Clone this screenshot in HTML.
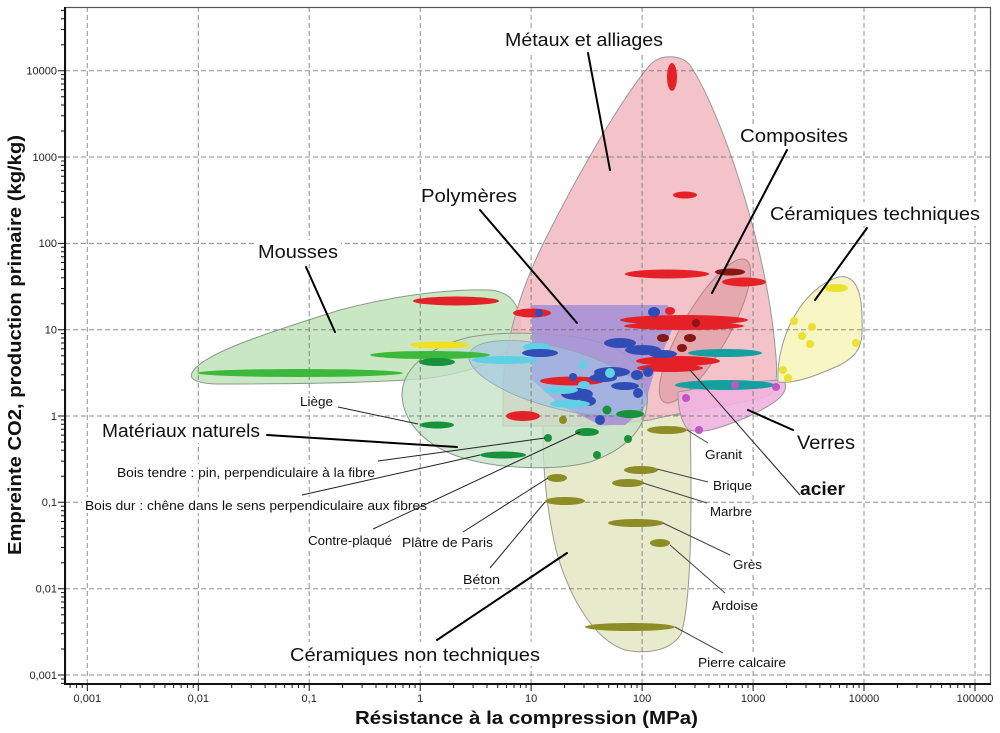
<!DOCTYPE html>
<html><head><meta charset="utf-8"><style>
html,body{margin:0;padding:0;background:#fff;}
svg{display:block;}
text{font-family:"Liberation Sans",Arial,sans-serif;}
</style></head><body>
<svg width="1000" height="733" viewBox="0 0 1000 733" xmlns="http://www.w3.org/2000/svg">
<rect x="0" y="0" width="1000" height="733" fill="#fff"/>

<!-- Regions -->
<!-- Mousses -->
<path d="M192,373 C200,355 260,335 340,310 C390,297 440,289 490,290 C515,292 522,310 520,335 C510,360 470,372 430,378 C380,383 300,384 220,384 C200,384 188,380 192,373 Z" fill="#c9e7c2" stroke="#8a9a8a" stroke-width="1"/>
<!-- Céramiques non techniques -->
<path d="M543,415 L690,415 C692,500 692,600 681,634 C670,652 645,654 625,650 C595,640 570,600 556,550 C547,510 542,470 543,415 Z" fill="#e7eacb" stroke="#9a9a90" stroke-width="1"/>
<!-- Métaux -->
<path d="M503,426 L503,390 C505,340 520,290 545,240 C575,180 620,100 650,65 C660,54 680,54 690,65 C720,110 760,230 772,320 C777,360 780,385 770,395 C740,405 690,410 650,420 L600,426 Z" fill="#f3b9c2" fill-opacity="0.88" stroke="#999" stroke-width="1"/>
<!-- Natural materials -->
<path d="M402,395 C402,370 425,348 470,337 C510,330 580,332 615,348 C640,362 650,385 647,405 C644,430 625,450 590,462 C560,470 510,470 470,460 C430,450 403,425 402,395 Z" fill="#c4e2c6" fill-opacity="0.78" stroke="#8a9a8a" stroke-width="1"/>
<!-- Composites -->
<ellipse cx="705" cy="331" rx="82" ry="23" transform="rotate(-60 705 331)" fill="#c8787c" fill-opacity="0.35" stroke="#b08888" stroke-width="1"/>
<!-- Polymères -->
<polygon points="532,305 668,305 672,330 655,370 643,410 625,425 600,425 560,405 532,380" fill="#a590d6" fill-opacity="0.88"/>
<!-- Elastomer light-blue ellipse -->
<ellipse cx="558" cy="378" rx="92" ry="30" transform="rotate(15 558 378)" fill="#9ec3e6" fill-opacity="0.6" stroke="#8aa" stroke-width="0.8"/>
<!-- Verres -->
<path d="M678,392 C720,384 760,381 784,380 C790,392 780,402 745,418 C720,428 705,434 688,430 C680,420 678,405 678,392 Z" fill="#f0b2df" fill-opacity="0.9" stroke="#999" stroke-width="1"/>
<!-- Céramiques techniques -->
<path d="M778,382 C776,340 800,290 838,277 C855,274 862,290 862,320 C863,345 860,355 838,366 C815,376 795,384 778,382 Z" fill="#f8f6c2" stroke="#999" stroke-width="1"/>

<!-- Grid -->
<g stroke="#6a6a6a" stroke-width="1" stroke-dasharray="5,3" opacity="0.75">
<line x1="87.3" y1="7" x2="87.3" y2="684"/>
<line x1="198.3" y1="7" x2="198.3" y2="684"/>
<line x1="309.2" y1="7" x2="309.2" y2="684"/>
<line x1="420.2" y1="7" x2="420.2" y2="684"/>
<line x1="531.1" y1="7" x2="531.1" y2="684"/>
<line x1="642.1" y1="7" x2="642.1" y2="684"/>
<line x1="753.1" y1="7" x2="753.1" y2="684"/>
<line x1="864.0" y1="7" x2="864.0" y2="684"/>
<line x1="975.0" y1="7" x2="975.0" y2="684"/>
<line x1="65" y1="70.7" x2="991" y2="70.7"/>
<line x1="65" y1="157.0" x2="991" y2="157.0"/>
<line x1="65" y1="243.4" x2="991" y2="243.4"/>
<line x1="65" y1="329.7" x2="991" y2="329.7"/>
<line x1="65" y1="416.0" x2="991" y2="416.0"/>
<line x1="65" y1="502.3" x2="991" y2="502.3"/>
<line x1="65" y1="588.7" x2="991" y2="588.7"/>
<line x1="65" y1="675.0" x2="991" y2="675.0"/>
</g>

<!-- Label background boxes -->
<g fill="#fff">
<rect x="502" y="28" width="164" height="24"/>
<rect x="737" y="124" width="114" height="24"/>
<rect x="767" y="202" width="216" height="24"/>
<rect x="418" y="184" width="102" height="24"/>
<rect x="255" y="240" width="86" height="24"/>
<rect x="99" y="419" width="164" height="24"/>
<rect x="287" y="642" width="256" height="24"/>
<rect x="794" y="430" width="64" height="24"/>
<rect x="797" y="478" width="52" height="22"/>
<rect x="298" y="394" width="37" height="15"/>
<rect x="115" y="464" width="262" height="16"/>
<rect x="82" y="497" width="346" height="16"/>
<rect x="306" y="532" width="88" height="16"/>
<rect x="400" y="534" width="95" height="16"/>
<rect x="461" y="571" width="41" height="16"/>
<rect x="703" y="447" width="41" height="16"/>
<rect x="711" y="479" width="43" height="16"/>
<rect x="708" y="504" width="46" height="16"/>
<rect x="731" y="556" width="33" height="16"/>
<rect x="710" y="597" width="50" height="16"/>
<rect x="696" y="654" width="92" height="16"/>
</g>

<!-- Bubbles -->
<g fill="#e52128">
<ellipse cx="672" cy="77" rx="5" ry="14"/>
<ellipse cx="685" cy="195" rx="12" ry="3.5"/>
<ellipse cx="667" cy="274" rx="42" ry="4.5"/>
<ellipse cx="744" cy="282" rx="22" ry="4.5"/>
<ellipse cx="456" cy="301" rx="43" ry="4.5"/>
<ellipse cx="532" cy="313" rx="19" ry="4.5"/>
<ellipse cx="670" cy="311" rx="5" ry="4"/>
<ellipse cx="684" cy="320" rx="64" ry="5"/>
<ellipse cx="684" cy="326" rx="60" ry="4"/>
<ellipse cx="678" cy="361" rx="42" ry="5"/>
<ellipse cx="670" cy="368" rx="33" ry="4"/>
<ellipse cx="572" cy="381" rx="32" ry="4.5"/>
<ellipse cx="523" cy="416" rx="17" ry="5"/>
</g>
<g fill="#8a1515">
<ellipse cx="730" cy="272" rx="15" ry="3.5"/>
<circle cx="696" cy="323" r="4"/>
<ellipse cx="663" cy="338" rx="6" ry="4"/>
<ellipse cx="690" cy="338" rx="6" ry="4"/>
<ellipse cx="682" cy="348" rx="5" ry="4"/>
</g>
<g fill="#3cb83c">
<ellipse cx="430" cy="355" rx="60" ry="4"/>
<ellipse cx="300" cy="373" rx="103" ry="4"/>
</g>
<ellipse cx="440" cy="345" rx="30" ry="3.5" fill="#f0e020"/>
<g fill="#5fd0e6">
<ellipse cx="537" cy="347" rx="14" ry="4"/>
<ellipse cx="505" cy="360" rx="33" ry="4"/>
</g>
<g fill="#2f4db5">
<circle cx="539" cy="313" r="4"/>
<ellipse cx="654" cy="312" rx="6" ry="5"/>
<ellipse cx="540" cy="353" rx="18" ry="4"/>
<ellipse cx="620" cy="343" rx="16" ry="5"/>
<ellipse cx="643" cy="350" rx="18" ry="5"/>
<ellipse cx="663" cy="354" rx="14" ry="4"/>
<ellipse cx="612" cy="372" rx="18" ry="5"/>
<ellipse cx="603" cy="378" rx="14" ry="4"/>
<circle cx="573" cy="377" r="4"/>
<circle cx="598" cy="377" r="5"/>
<ellipse cx="637" cy="375" rx="6" ry="5"/>
<circle cx="648" cy="372" r="5"/>
<ellipse cx="625" cy="386" rx="14" ry="4"/>
<ellipse cx="577" cy="394" rx="16" ry="6"/>
<circle cx="638" cy="393" r="5"/>
<circle cx="600" cy="420" r="5"/>
<ellipse cx="588" cy="401" rx="8" ry="5"/>
</g>
<g fill="#5fd0e6">
<circle cx="583" cy="365" r="4"/>
<circle cx="610" cy="373" r="5"/>
<ellipse cx="584" cy="385" rx="6" ry="4"/>
<ellipse cx="561" cy="390" rx="17" ry="4"/>
<ellipse cx="570" cy="404" rx="20" ry="4"/>
</g>
<g fill="#17913c">
<ellipse cx="437" cy="362" rx="18" ry="4"/>
<ellipse cx="437" cy="425" rx="17" ry="3.5"/>
<ellipse cx="503" cy="455" rx="23" ry="3.5"/>
<circle cx="548" cy="438" r="4"/>
<ellipse cx="587" cy="432" rx="12" ry="4"/>
<circle cx="597" cy="455" r="4"/>
<circle cx="628" cy="439" r="4"/>
<circle cx="607" cy="410" r="4.5"/>
<ellipse cx="630" cy="414" rx="14" ry="4"/>
</g>
<g fill="#14a0a0">
<ellipse cx="725" cy="353" rx="37" ry="4"/>
<ellipse cx="725" cy="385" rx="50" ry="5"/>
</g>
<g fill="#c055c5">
<circle cx="735" cy="385" r="4"/>
<circle cx="776" cy="387" r="4"/>
<circle cx="686" cy="398" r="4"/>
<circle cx="699" cy="430" r="4"/>
</g>
<g fill="#ece030">
<ellipse cx="836" cy="288" rx="12" ry="4"/>
<circle cx="794" cy="321" r="4"/>
<circle cx="812" cy="327" r="4"/>
<circle cx="802" cy="336" r="4"/>
<circle cx="810" cy="344" r="4"/>
<circle cx="856" cy="343" r="4"/>
<circle cx="783" cy="370" r="4"/>
<circle cx="788" cy="378" r="4"/>
</g>
<g fill="#8d8c26">
<circle cx="563" cy="420" r="4"/>
<ellipse cx="667" cy="430" rx="20" ry="4"/>
<ellipse cx="641" cy="470" rx="17" ry="4"/>
<ellipse cx="628" cy="483" rx="16" ry="4"/>
<ellipse cx="557" cy="478" rx="10" ry="4"/>
<ellipse cx="565" cy="501" rx="20" ry="4"/>
<ellipse cx="636" cy="523" rx="28" ry="4"/>
<ellipse cx="660" cy="543" rx="10" ry="4"/>
<ellipse cx="630" cy="627" rx="45" ry="4"/>
</g>

<!-- Leader lines -->
<g stroke="#000" stroke-width="2" stroke-linecap="round">
<line x1="588" y1="53" x2="610" y2="170"/>
<line x1="787" y1="150" x2="712" y2="293"/>
<line x1="867" y1="228" x2="815" y2="300"/>
<line x1="480" y1="210" x2="577" y2="323"/>
<line x1="306" y1="267" x2="335" y2="332"/>
<line x1="267" y1="435" x2="457" y2="447"/>
<line x1="748" y1="410" x2="793" y2="430"/>
<line x1="437" y1="640" x2="567" y2="553"/>
</g>
<g stroke="#222" stroke-width="1">
<line x1="338" y1="407" x2="418" y2="424"/>
<line x1="378" y1="461" x2="545" y2="438"/>
<line x1="302" y1="495" x2="480" y2="455"/>
<line x1="373" y1="529" x2="580" y2="432"/>
<line x1="463" y1="532" x2="548" y2="478"/>
<line x1="490" y1="568" x2="545" y2="502"/>
<line x1="690" y1="370" x2="800" y2="495"/>
</g>
<g stroke="#444" stroke-width="1">
<line x1="687" y1="430" x2="708" y2="443"/>
<line x1="657" y1="469" x2="708" y2="482"/>
<line x1="643" y1="483" x2="707" y2="503"/>
<line x1="663" y1="523" x2="730" y2="555"/>
<line x1="670" y1="545" x2="725" y2="593"/>
<line x1="675" y1="627" x2="723" y2="653"/>
</g>

<!-- Category labels -->
<g font-size="18" fill="#111">
<text x="505" y="46" textLength="158" lengthAdjust="spacingAndGlyphs">Métaux et alliages</text>
<text x="740" y="142" textLength="108" lengthAdjust="spacingAndGlyphs">Composites</text>
<text x="770" y="220" textLength="210" lengthAdjust="spacingAndGlyphs">Céramiques techniques</text>
<text x="421" y="202" textLength="96" lengthAdjust="spacingAndGlyphs">Polymères</text>
<text x="258" y="258" textLength="80" lengthAdjust="spacingAndGlyphs">Mousses</text>
<text x="102" y="437" textLength="158" lengthAdjust="spacingAndGlyphs">Matériaux naturels</text>
<text x="290" y="661" textLength="250" lengthAdjust="spacingAndGlyphs">Céramiques non techniques</text>
<text x="797" y="449" font-size="19" textLength="58" lengthAdjust="spacingAndGlyphs">Verres</text>
<text x="800" y="495" font-weight="bold" textLength="45" lengthAdjust="spacingAndGlyphs">acier</text>
</g>
<g font-size="12.5" fill="#111">
<text x="300" y="406" textLength="33" lengthAdjust="spacingAndGlyphs">Liège</text>
<text x="117" y="477" textLength="258" lengthAdjust="spacingAndGlyphs">Bois tendre : pin, perpendiculaire à la fibre</text>
<text x="85" y="510" textLength="342" lengthAdjust="spacingAndGlyphs">Bois dur : chêne dans le sens perpendiculaire aux fibres</text>
<text x="308" y="545" textLength="84" lengthAdjust="spacingAndGlyphs">Contre-plaqué</text>
<text x="402" y="547" textLength="91" lengthAdjust="spacingAndGlyphs">Plâtre de Paris</text>
<text x="463" y="584" textLength="37" lengthAdjust="spacingAndGlyphs">Béton</text>
<text x="705" y="459" textLength="37" lengthAdjust="spacingAndGlyphs">Granit</text>
<text x="713" y="490" textLength="39" lengthAdjust="spacingAndGlyphs">Brique</text>
<text x="710" y="516" textLength="42" lengthAdjust="spacingAndGlyphs">Marbre</text>
<text x="733" y="569" textLength="29" lengthAdjust="spacingAndGlyphs">Grès</text>
<text x="712" y="610" textLength="46" lengthAdjust="spacingAndGlyphs">Ardoise</text>
<text x="698" y="667" textLength="88" lengthAdjust="spacingAndGlyphs">Pierre calcaire</text>
</g>

<!-- Frame and axes -->
<rect x="65.5" y="7.5" width="925" height="676.5" fill="none" stroke="#555" stroke-width="1.2"/>
<line x1="65" y1="7" x2="65" y2="685" stroke="#111" stroke-width="2"/>
<line x1="64" y1="684" x2="991" y2="684" stroke="#111" stroke-width="2"/>

<!-- X ticks -->
<path stroke="#111" stroke-width="1" fill="none" d="
M70.1,684V688 M76.5,684V688 M82.2,684V688
M120.7,684V688 M140.2,684V688 M154.1,684V688 M164.9,684V688 M173.6,684V688 M181.1,684V688 M187.5,684V688 M193.2,684V688
M231.7,684V688 M251.2,684V688 M265.1,684V688 M275.9,684V688 M284.6,684V688 M292.1,684V688 M298.5,684V688 M304.2,684V688
M342.6,684V688 M362.1,684V688 M376.0,684V688 M386.8,684V688 M395.5,684V688 M403.0,684V688 M409.4,684V688 M415.1,684V688
M453.6,684V688 M473.1,684V688 M487.0,684V688 M497.8,684V688 M506.5,684V688 M514.0,684V688 M520.4,684V688 M526.1,684V688
M564.5,684V688 M584.0,684V688 M597.9,684V688 M608.7,684V688 M617.4,684V688 M624.9,684V688 M631.3,684V688 M637.0,684V688
M675.5,684V688 M695.0,684V688 M708.9,684V688 M719.7,684V688 M728.4,684V688 M735.9,684V688 M742.3,684V688 M748.0,684V688
M786.5,684V688 M806.0,684V688 M819.9,684V688 M830.7,684V688 M839.4,684V688 M846.9,684V688 M853.3,684V688 M859.0,684V688
M897.4,684V688 M916.9,684V688 M930.8,684V688 M941.6,684V688 M950.3,684V688 M957.8,684V688 M964.2,684V688 M969.9,684V688
M87.3,684V691 M198.3,684V691 M309.2,684V691 M420.2,684V691 M531.1,684V691 M642.1,684V691 M753.1,684V691 M864.0,684V691 M975.0,684V691
"/>
<!-- Y ticks -->
<path stroke="#111" stroke-width="1" fill="none" d="
M61,679.0H65 M61,683.4H65
M61,649.0H65 M61,633.8H65 M61,623.0H65 M61,614.7H65 M61,607.8H65 M61,602.0H65 M61,597.0H65 M61,592.6H65
M61,562.7H65 M61,547.5H65 M61,536.7H65 M61,528.4H65 M61,521.5H65 M61,515.7H65 M61,510.7H65 M61,506.3H65
M61,476.3H65 M61,461.1H65 M61,450.3H65 M61,442.0H65 M61,435.1H65 M61,429.3H65 M61,424.3H65 M61,419.9H65
M61,390.0H65 M61,374.8H65 M61,364.0H65 M61,355.7H65 M61,348.8H65 M61,343.0H65 M61,338.0H65 M61,333.6H65
M61,303.7H65 M61,288.5H65 M61,277.7H65 M61,269.4H65 M61,262.5H65 M61,256.7H65 M61,251.7H65 M61,247.3H65
M61,217.4H65 M61,202.2H65 M61,191.4H65 M61,183.1H65 M61,176.2H65 M61,170.4H65 M61,165.4H65 M61,161.0H65
M61,131.0H65 M61,115.8H65 M61,105.0H65 M61,96.7H65 M61,89.8H65 M61,84.0H65 M61,79.0H65 M61,74.6H65
M61,44.7H65 M61,29.5H65 M61,18.7H65 M61,10.4H65
M58,70.7H65 M58,157.0H65 M58,243.4H65 M58,329.7H65 M58,416.0H65 M58,502.3H65 M58,588.7H65 M58,675.0H65
"/>

<!-- Tick labels -->
<g font-size="11" fill="#222" text-anchor="end">
<text x="57" y="74.5">10000</text>
<text x="57" y="161">1000</text>
<text x="57" y="247">100</text>
<text x="57" y="333.5">10</text>
<text x="57" y="420">1</text>
<text x="57" y="506">0,1</text>
<text x="57" y="592.5">0,01</text>
<text x="57" y="679">0,001</text>
</g>
<g font-size="11" fill="#222" text-anchor="middle">
<text x="87.3" y="702">0,001</text>
<text x="198.3" y="702">0,01</text>
<text x="309.2" y="702">0,1</text>
<text x="420.2" y="702">1</text>
<text x="531.1" y="702">10</text>
<text x="642.1" y="702">100</text>
<text x="753.1" y="702">1000</text>
<text x="864.0" y="702">10000</text>
<text x="975.0" y="702">100000</text>
</g>

<!-- Axis titles -->
<text x="355" y="724" font-size="18" font-weight="bold" fill="#111" textLength="343" lengthAdjust="spacingAndGlyphs">Résistance à la compression (MPa)</text>
<text transform="translate(21,345) rotate(-90)" x="0" y="0" font-size="18" font-weight="bold" fill="#111" text-anchor="middle" textLength="420" lengthAdjust="spacingAndGlyphs">Empreinte CO2, production primaire (kg/kg)</text>
</svg>
</body></html>
